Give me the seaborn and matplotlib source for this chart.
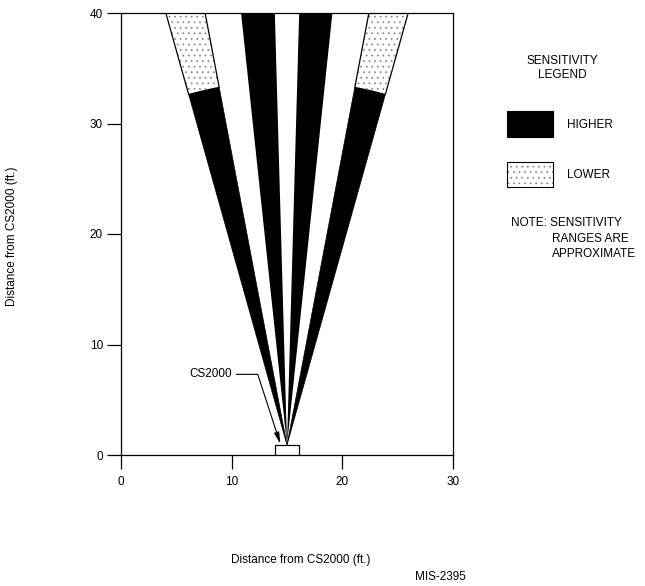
import numpy as np
import pandas as pd
import matplotlib
matplotlib.use("Agg")
import matplotlib.pyplot as plt
from matplotlib.patches import Polygon, Rectangle
import seaborn as sns

# ---- data ----
apex = (15.0, 0.9)                       # beam origin (top of the CS2000 box)
top_y = 40.0                             # beams run to the top of the chart
inner_beams = [(10.85, 13.9), (16.1, 19.1)]   # x of edges at y=40, high sensitivity
outer_beams = [(4.05, 7.6), (22.4, 25.95)]    # x of edges at y=40
higher_range = 33.0                      # radius where outer beams turn to lower sensitivity
sensor_box = (13.9, 0.0, 2.2, 0.9)       # x, y, width, height
x_ticks = [0, 10, 20, 30]
y_ticks = [0, 10, 20, 30, 40]
axis_label = "Distance from CS2000 (ft.)"

FS = 8.5
sns.set_theme(style="ticks")
plt.rcParams["font.family"] = ["Liberation Sans", "DejaVu Sans"]
plt.rcParams["hatch.linewidth"] = 0.5
plt.rcParams["text.color"] = "black"

fig = plt.figure(figsize=(6.45, 5.86), dpi=100)
ax = fig.add_axes([121 / 645, 1 - 455 / 586, 332 / 645, 442 / 586])
ax.set_xlim(0, 30)
ax.set_ylim(0, 40)


def edge_dir(xt):
    dx, dy = xt - apex[0], top_y - apex[1]
    L = np.hypot(dx, dy)
    return dx / L, dy / L


def edge_pt(xt, r):
    ux, uy = edge_dir(xt)
    return (apex[0] + r * ux, apex[1] + r * uy)


def arc_pts(xa, xb, r, n=30):
    ta = np.arctan2(*edge_dir(xa)[::-1])
    tb = np.arctan2(*edge_dir(xb)[::-1])
    th = np.linspace(ta, tb, n)
    return [(apex[0] + r * np.cos(t), apex[1] + r * np.sin(t)) for t in th]


# inner high-sensitivity beams
for xl, xr in inner_beams:
    ax.add_patch(Polygon([apex, (xl, top_y), (xr, top_y)], closed=True,
                         facecolor="black", edgecolor="none", zorder=2))

# outer beams: black near, dotted far
outline_rows = []
for i, (xa, xb) in enumerate(outer_beams):
    arc = arc_pts(xa, xb, higher_range)
    ax.add_patch(Polygon([apex] + arc, closed=True,
                         facecolor="black", edgecolor="black", lw=0.5, zorder=2))
    dotted = arc + [(xb, top_y), (xa, top_y)]
    ax.add_patch(Polygon(dotted, closed=True, facecolor="white",
                         edgecolor="0.5", lw=0, hatch="...", zorder=2))
    for j, xe in enumerate((xa, xb)):
        p0 = edge_pt(xe, higher_range)
        outline_rows.append({"x": p0[0], "y": p0[1], "edge": f"{i}-{j}"})
        outline_rows.append({"x": xe, "y": top_y, "edge": f"{i}-{j}"})

outline = pd.DataFrame(outline_rows)
sns.lineplot(data=outline, x="x", y="y", units="edge", estimator=None,
             color="black", lw=0.9, sort=False, ax=ax, zorder=3)

# sensor box
bx, by, bw, bh = sensor_box
ax.add_patch(Rectangle((bx, by), bw, bh, facecolor="white",
                       edgecolor="black", lw=0.9, zorder=4))

# CS2000 callout
ax.annotate("CS2000", xy=(14.4, 1.0), xytext=(10.0, 7.3),
            ha="right", va="center", fontsize=FS, color="black",
            arrowprops=dict(arrowstyle="-|>,head_length=0.8,head_width=0.18",
                            connectionstyle="angle,angleA=0,angleB=108,rad=0",
                            color="black", lw=0.8, shrinkA=1, shrinkB=0),
            zorder=5)

ax.set_xticks(x_ticks)
ax.set_yticks(y_ticks)
ax.set_xlabel("")
ax.set_ylabel("")
ax.tick_params(axis="both", direction="out", length=10, width=0.9,
               colors="black", labelsize=FS)
ax.tick_params(axis="y", pad=3)
ax.tick_params(axis="x", pad=5)
for s in ax.spines.values():
    s.set_visible(True)
    s.set_color("black")
    s.set_linewidth(0.9)
ax.set_facecolor("white")


def fxy(px, py):
    return px / 645, 1 - py / 586


fig.text(*fxy(301, 560), axis_label, ha="center", va="center", fontsize=FS)
fig.text(*fxy(12, 236), axis_label, ha="center", va="center", fontsize=FS,
         rotation=90)
fig.text(*fxy(440, 577), "MIS-2395", ha="center", va="center", fontsize=FS)

# legend
fig.text(*fxy(562, 68), "SENSITIVITY\nLEGEND", ha="center", va="center",
         fontsize=FS, multialignment="center", linespacing=1.2)
fig.patches.append(Rectangle(fxy(507, 137), 46 / 645, 26 / 586,
                             transform=fig.transFigure, facecolor="black",
                             edgecolor="black", lw=0.8))
fig.patches.append(Rectangle(fxy(507, 187), 46 / 645, 25 / 586,
                             transform=fig.transFigure, facecolor="white",
                             edgecolor="0.5", lw=0, hatch="..."))
fig.patches.append(Rectangle(fxy(507, 187), 46 / 645, 25 / 586,
                             transform=fig.transFigure, facecolor="none",
                             edgecolor="black", lw=0.8))
fig.text(*fxy(567, 125), "HIGHER", ha="left", va="center", fontsize=FS)
fig.text(*fxy(567, 175), "LOWER", ha="left", va="center", fontsize=FS)
fig.text(*fxy(511, 223), "NOTE: SENSITIVITY", ha="left", va="center", fontsize=FS)
fig.text(*fxy(552, 239), "RANGES ARE", ha="left", va="center", fontsize=FS)
fig.text(*fxy(552, 254), "APPROXIMATE", ha="left", va="center", fontsize=FS)

fig.savefig("out.png", dpi=100, facecolor="white")
